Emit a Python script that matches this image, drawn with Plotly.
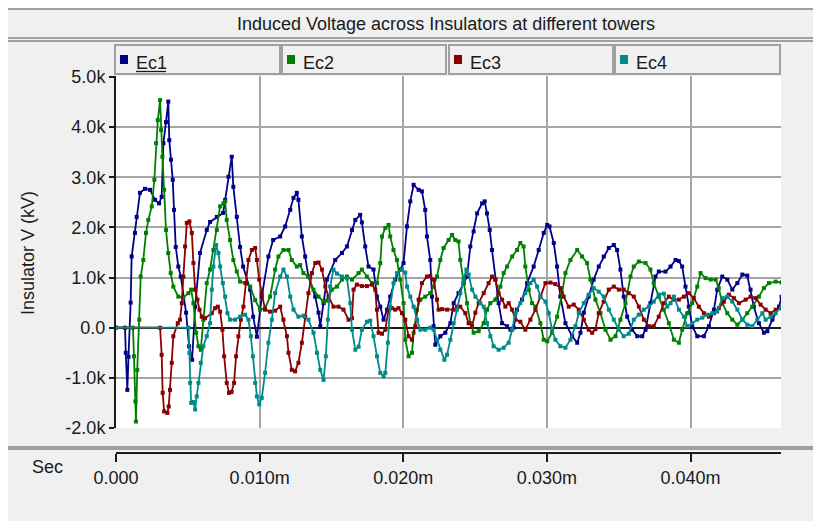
import plotly.graph_objects as go

# ---------------- data (time in µs, i.e. 0.010m s = 10 ; voltage in k units) ----------------
t_ec1 = [0, 0.63, 0.68, 0.79, 0.87, 1.02, 1.09, 1.32, 1.44, 1.67, 2.02, 2.37, 2.72, 3.00, 3.18, 3.30, 3.48, 3.64, 3.71, 3.83,
         3.95, 4.04, 4.16, 4.34, 4.51, 4.88, 5.09, 5.30, 5.51, 5.85, 6.32, 6.55, 7.02, 7.46, 7.60, 7.83, 8.06, 8.17, 8.41, 8.64,
         8.85, 9.34, 9.55, 9.81, 10.15, 10.61, 10.94, 11.43, 11.78, 12.13, 12.36, 12.59, 12.70, 12.94, 13.17, 13.40, 13.87, 14.10, 14.22, 14.45,
         14.68, 15.26, 15.73, 16.08, 16.43, 16.66, 17.00, 17.12, 17.35, 17.58, 17.93, 18.17, 18.40, 18.63, 18.87, 19.09, 19.44, 19.79, 20.02, 20.26,
         20.49, 20.72, 21.07, 21.30, 21.53, 21.65, 21.88, 22.00, 22.11, 22.23, 22.58, 22.93, 23.28, 23.51, 23.85, 24.20, 24.44, 24.67, 24.90, 25.14,
         25.49, 25.67, 25.83, 26.02, 26.18, 26.41, 26.64, 26.88, 27.23, 27.46, 27.69, 27.92, 28.27, 28.62, 29.08, 29.43, 29.78, 30.02, 30.18, 30.48,
         30.71, 30.94, 31.29, 31.76, 32.11, 32.34, 32.57, 32.91, 33.26, 33.61, 33.96, 34.31, 34.66, 34.89, 35.12, 35.35, 35.59, 35.94, 36.29, 36.64,
         36.87, 37.21, 37.56, 37.79, 38.26, 38.61, 38.96, 39.19, 39.42, 39.65, 39.88, 40.12, 40.47, 40.93, 41.28, 41.63, 41.86, 42.21, 42.56, 42.91,
         43.26, 43.61, 43.95, 44.18, 44.41, 44.76, 45.11, 45.35, 45.70, 46.16, 46.34]
v_ec1 = [0, 0, -0.5, -1.24, -0.58, 0.5, 1.42, 1.89, 2.21, 2.69, 2.77, 2.75, 2.55, 2.48, 2.61, 3.68, 4.1, 4.51, 3.74, 3.35,
         2.95, 2.35, 1.61, 1.22, 1.02, 0.3, -0.37, -0.64, 0.42, 1.49, 1.95, 2.11, 2.21, 2.29, 2.55, 3.01, 3.41, 2.81, 2.21, 1.61,
         1.22, 0.76, 0.22, -0.18, 0.62, 1.42, 1.75, 1.82, 2.02, 2.35, 2.59, 2.69, 2.55, 1.82, 1.42, 1.02, 0.62, 0.3, 0.03, 0.49,
         0.96, 1.35, 1.49, 1.62, 1.95, 2.15, 2.25, 2.1, 1.62, 1.22, 1.16, 0.62, 0.42, 0.16, 0.36, 0.62, 0.96, 1.16, 1.29, 2.02,
         2.52, 2.85, 2.75, 2.72, 2.35, 1.82, 1.35, 0.62, 0.03, -0.34, -0.17, -0.1, 0.09, 0.49, 0.69, 0.89, 1.02, 1.62, 1.92, 2.28,
         2.48, 2.52, 2.28, 1.95, 1.55, 0.96, 0.49, 0.09, 0.03, -0.04, 0.0, 0.36, 0.56, 0.89, 1.22, 1.55, 1.89, 2.05, 2.02, 1.69,
         1.22, 0.62, 0.09, -0.17, -0.3, -0.1, 0.3, 0.62, 0.96, 1.22, 1.42, 1.59, 1.65, 1.55, 1.16, 0.62, 0.22, -0.04, -0.17, -0.17,
         -0.04, 0.49, 1.02, 1.12, 1.12, 1.22, 1.35, 1.33, 1.22, 0.82, 0.42, 0.03, -0.17, -0.17, 0.03, 0.36, 0.76, 1.02, 0.96, 0.76,
         0.89, 1.06, 1.04, 0.76, 0.42, 0.09, -0.1, -0.07, 0.16, 0.42, 0.62]

t_ec2 = [0, 1.18, 1.25, 1.35, 1.39, 1.48, 1.62, 1.72, 1.90, 2.09, 2.25, 2.49, 2.67, 2.79, 2.91, 3.07, 3.14, 3.23, 3.35, 3.48,
         3.64, 3.81, 3.99, 4.34, 4.69, 5.04, 5.23, 5.39, 5.58, 5.74, 5.90, 6.08, 6.32, 6.55, 6.78, 7.02, 7.25, 7.48, 7.60, 7.71,
         7.94, 8.17, 8.41, 8.64, 8.99, 9.34, 9.69, 10.03, 10.38, 10.73, 11.08, 11.31, 11.66, 12.01, 12.24, 12.59, 12.82, 13.05, 13.40, 13.75,
         14.10, 14.45, 14.68, 15.03, 15.38, 15.73, 16.08, 16.43, 16.89, 17.12, 17.47, 17.82, 18.17, 18.40, 18.52, 18.75, 18.98, 19.09, 19.32, 19.56,
         19.79, 20.02, 20.14, 20.37, 20.61, 20.72, 20.96, 21.19, 21.53, 21.88, 22.11, 22.35, 22.58, 22.81, 23.16, 23.40, 23.62, 23.85, 23.97, 24.20,
         24.44, 24.67, 24.90, 25.25, 25.60, 25.83, 26.06, 26.41, 26.76, 26.99, 27.23, 27.58, 27.92, 28.15, 28.38, 28.50, 28.74, 28.97, 29.20, 29.55,
         29.78, 30.02, 30.36, 30.71, 31.06, 31.29, 31.64, 32.11, 32.45, 32.80, 33.03, 33.38, 33.73, 34.08, 34.43, 34.78, 35.12, 35.47, 35.82, 36.05,
         36.40, 36.87, 37.21, 37.44, 37.79, 38.14, 38.49, 38.84, 39.19, 39.42, 39.77, 40.12, 40.47, 40.70, 41.05, 41.40, 41.75, 41.97, 42.21, 42.56,
         42.91, 43.26, 43.61, 43.95, 44.30, 44.76, 45.11, 45.46, 45.93, 46.34]
v_ec2 = [0, 0, -0.57, -1.47, -1.87, -0.84, 0.16, 1.02, 1.35, 1.89, 2.15, 2.42, 2.95, 3.68, 4.14, 4.54, 3.94, 3.41, 2.75, 1.95,
         1.49, 1.09, 0.82, 0.62, 0.6, 0.69, 0.76, 0.49, -0.1, -0.37, -0.44, 0.16, 0.89, 1.16, 1.55, 1.95, 2.42, 2.48, 2.52, 2.15,
         1.75, 1.35, 1.12, 0.92, 0.89, 0.82, 0.55, 0.36, 0.39, 0.62, 1.16, 1.42, 1.55, 1.55, 1.35, 1.22, 1.25, 1.09, 1.02, 0.76,
         0.62, 0.52, 0.54, 0.76, 0.82, 0.96, 1.02, 0.96, 1.09, 1.16, 1.02, 0.89, 0.89, 1.29, 1.82, 1.99, 2.05, 1.82, 1.55, 1.35,
         0.96, 0.49, -0.24, -0.57, -0.5, -0.1, 0.36, 0.56, 0.62, 0.69, 0.82, 1.02, 1.35, 1.59, 1.75, 1.85, 1.75, 1.72, 1.35, 0.89,
         0.49, 0.09, -0.1, -0.07, 0.09, 0.36, 0.49, 0.56, 0.82, 1.09, 1.22, 1.42, 1.55, 1.69, 1.62, 1.22, 0.76, 0.49, 0.42, 0.09,
         -0.24, -0.27, -0.1, 0.22, 0.69, 1.09, 1.35, 1.55, 1.42, 1.29, 0.96, 0.56, 0.29, -0.04, -0.24, -0.17, 0.16, 0.49, 1.02, 1.22,
         1.32, 1.29, 1.16, 0.89, 0.62, 0.36, 0.09, -0.24, -0.3, -0.04, 0.29, 0.49, 0.82, 1.09, 0.99, 0.96, 0.96, 0.79, 0.49, 0.29,
         0.16, 0.06, 0.16, 0.29, 0.42, 0.62, 0.79, 0.89, 0.92, 0.9]

t_ec3 = [0, 3.07, 3.18, 3.25, 3.35, 3.58, 3.67, 3.76, 3.88, 3.99, 4.30, 4.46, 4.58, 4.69, 4.81, 4.93, 5.11, 5.28, 5.39, 5.51,
         5.67, 5.81, 5.97, 6.20, 6.67, 6.90, 7.09, 7.25, 7.41, 7.53, 7.71, 7.87, 8.05, 8.22, 8.36, 8.52, 8.69, 8.87, 9.06, 9.22,
         9.46, 9.69, 9.81, 9.97, 10.15, 10.38, 10.73, 11.08, 11.43, 11.66, 11.90, 12.01, 12.24, 12.47, 12.70, 12.94, 13.17, 13.40, 13.64, 13.87,
         14.10, 14.34, 14.57, 14.80, 15.14, 15.49, 15.84, 16.19, 16.43, 16.54, 16.77, 17.12, 17.47, 17.82, 18.05, 18.17, 18.28, 18.52, 18.75, 18.98,
         19.21, 19.44, 19.67, 19.91, 20.14, 20.37, 20.61, 20.84, 21.07, 21.30, 21.65, 21.88, 22.11, 22.35, 22.46, 22.70, 23.05, 23.51, 23.74, 23.97,
         24.32, 24.55, 24.79, 25.02, 25.25, 25.60, 25.94, 26.18, 26.41, 26.64, 26.88, 27.11, 27.34, 27.58, 27.81, 28.15, 28.50, 28.85, 29.20, 29.55,
         29.90, 30.25, 30.59, 30.94, 31.17, 31.52, 31.87, 32.22, 32.57, 32.91, 33.15, 33.38, 33.61, 33.96, 34.31, 34.66, 35.01, 35.35, 35.70, 36.05,
         36.40, 36.75, 37.10, 37.44, 37.79, 38.14, 38.49, 38.84, 39.19, 39.54, 39.88, 40.23, 40.58, 40.93, 41.28, 41.63, 41.97, 42.32, 42.67, 43.02,
         43.37, 43.84, 44.18, 44.53, 44.88, 45.23, 45.58, 45.93, 46.34]
v_ec3 = [0, 0, -0.54, -1.3, -1.67, -1.7, -1.57, -1.24, -0.7, -0.17, 0.09, 0.16, 0.49, 1.02, 1.62, 2.09, 2.12, 1.89, 1.29, 0.76,
         0.56, 0.36, 0.22, 0.19, 0.29, 0.39, 0.42, 0.32, -0.04, -0.57, -1.1, -1.3, -1.28, -1.1, -0.57, -0.17, 0.16, 0.42, 0.89, 1.35,
         1.55, 1.59, 1.35, 0.96, 0.69, 0.36, 0.32, 0.34, 0.42, 0.16, -0.17, -0.5, -0.84, -0.87, -0.7, -0.3, 0.22, 0.69, 1.09, 1.29,
         1.3, 1.16, 0.82, 0.62, 0.42, 0.42, 0.36, 0.16, 0.19, 0.76, 0.86, 0.83, 0.83, 0.86, 0.76, 0.36, -0.1, -0.12, -0.04, 0.36,
         0.39, 0.36, 0.39, 0.29, 0.16, -0.17, -0.24, 0.03, 0.56, 0.89, 1.02, 1.03, 0.96, 0.56, 0.36, 0.37, 0.36, 0.36, 0.42, 0.42,
         0.29, 0.09, 0.03, 0.3, 0.49, 0.69, 0.89, 1.02, 0.96, 0.69, 0.56, 0.42, 0.49, 0.36, 0.16, 0.12, -0.04, 0.16, 0.36, 0.62,
         0.89, 0.9, 0.87, 0.79, 0.62, 0.42, 0.46, 0.36, 0.16, -0.04, -0.1, -0.03, 0.29, 0.52, 0.76, 0.82, 0.76, 0.76, 0.69, 0.62,
         0.42, 0.16, 0.03, 0.03, 0.22, 0.49, 0.62, 0.56, 0.56, 0.62, 0.69, 0.59, 0.42, 0.29, 0.22, 0.29, 0.39, 0.52, 0.66, 0.59,
         0.49, 0.56, 0.62, 0.59, 0.46, 0.36, 0.29, 0.36, 0.39]

t_ec4 = [0, 5.05, 5.11, 5.16, 5.23, 5.39, 5.51, 5.62, 5.74, 5.90, 6.08, 6.32, 6.55, 6.67, 6.78, 6.97, 7.13, 7.25, 7.44, 7.60,
         7.76, 7.94, 8.29, 8.64, 8.99, 9.22, 9.39, 9.53, 9.69, 9.81, 9.97, 10.15, 10.38, 10.61, 10.85, 11.08, 11.43, 11.66, 11.90, 12.13,
         12.36, 12.70, 13.05, 13.40, 13.75, 13.99, 14.22, 14.45, 14.61, 14.75, 14.91, 15.14, 15.38, 15.73, 16.08, 16.31, 16.43, 16.66, 16.89, 17.12,
         17.47, 17.70, 17.93, 18.17, 18.40, 18.63, 18.75, 18.93, 19.09, 19.32, 19.56, 19.91, 20.14, 20.26, 20.49, 20.72, 20.96, 21.19, 21.53, 21.88,
         22.11, 22.35, 22.58, 22.86, 23.05, 23.28, 23.51, 23.74, 23.97, 24.20, 24.39, 24.55, 24.79, 25.02, 25.37, 25.60, 25.83, 26.06, 26.29, 26.64,
         26.99, 27.34, 27.58, 27.81, 28.15, 28.50, 28.85, 29.08, 29.32, 29.55, 29.90, 30.13, 30.36, 30.59, 30.94, 31.29, 31.64, 31.99, 32.22, 32.57,
         32.91, 33.26, 33.61, 33.96, 34.31, 34.66, 35.01, 35.35, 35.70, 36.05, 36.40, 36.75, 37.10, 37.44, 37.79, 38.14, 38.38, 38.61, 38.84, 39.19,
         39.54, 39.77, 40.12, 40.47, 40.82, 41.17, 41.52, 41.86, 42.21, 42.56, 42.91, 43.26, 43.61, 43.95, 44.30, 44.65, 45.00, 45.23, 45.58, 45.93,
         46.34]
v_ec4 = [0, 0, -0.5, -1.1, -1.5, -1.48, -1.63, -1.37, -1.1, -0.7, -0.37, -0.17, 0.09, 0.76, 1.22, 1.65, 1.49, 1.22, 0.89, 0.62,
         0.29, 0.16, 0.16, 0.22, 0.26, 0.16, -0.17, -0.57, -1.1, -1.37, -1.53, -1.4, -0.9, -0.3, 0.16, 0.69, 1.02, 1.16, 1.02, 0.62,
         0.36, 0.22, 0.24, 0.16, -0.1, -0.5, -0.84, -1.04, -0.57, 0.16, 0.82, 1.16, 1.08, 1.02, 0.98, 0.49, -0.04, -0.44, -0.38, -0.04,
         0.12, 0.14, -0.17, -0.57, -0.9, -0.97, -0.9, -0.3, 0.42, 0.89, 1.09, 1.16, 1.1, 0.82, 0.62, 0.42, 0.16, -0.04, -0.04, 0.0,
         -0.04, -0.24, -0.44, -0.64, -0.54, -0.24, 0.09, 0.36, 0.69, 0.96, 1.16, 1.06, 0.76, 0.62, 0.49, 0.42, 0.09, -0.17, -0.37, -0.44,
         -0.4, -0.3, -0.04, 0.29, 0.49, 0.69, 0.89, 0.96, 0.82, 0.62, 0.52, 0.29, -0.04, -0.24, -0.37, -0.4, -0.24, 0.03, 0.29, 0.49,
         0.66, 0.79, 0.72, 0.62, 0.36, 0.16, -0.04, -0.17, -0.12, 0.16, 0.26, 0.36, 0.42, 0.52, 0.66, 0.68, 0.42, 0.49, 0.62, 0.36,
         0.22, 0.03, 0.09, 0.16, 0.2, 0.26, 0.29, 0.32, 0.59, 0.62, 0.52, 0.36, 0.16, 0.06, 0.03, 0.16, 0.29, 0.16, 0.22, 0.29,
         0.42]

series_names = ["Ec1", "Ec2", "Ec3", "Ec4"]
series_colors = ["#00008B", "#008000", "#8B0000", "#008B8B"]

x_tickvals = [0, 10, 20, 30, 40]
x_ticktext = ["0.000", "0.010m", "0.020m", "0.030m", "0.040m"]
y_tickvals = [-2, -1, 0, 1, 2, 3, 4, 5]
y_ticktext = ["-2.0k", "-1.0k", "0.0", "1.0k", "2.0k", "3.0k", "4.0k", "5.0k"]

title_text = "Induced Voltage across Insulators at different towers"
y_title = "Insulator V (kV)"
x_title = "Sec"

# ---------------- layout geometry (page pixels; the page body adds an 8px margin) ----------------
PAGE_W, PAGE_H = 821, 521
BODY = 8
L, R, T, B = 116, 781, 76, 452          # paper area in page pixels
PLOT_BOTTOM = 428                      # bottom of the main plot area
W, H = R - L, B - T

def fx(px):
    return (px - L) / W

def fy(py):
    return (B - py) / H

FONT = "Liberation Sans, Arial, sans-serif"
FS = 18
TXT = "#1a1a1a"
GRID = "#a6a6a6"

fig = go.Figure()
all_t = [t_ec1, t_ec2, t_ec3, t_ec4]
all_v = [v_ec1, v_ec2, v_ec3, v_ec4]
for name, col, tt, vv in zip(series_names, series_colors, all_t, all_v):
    fig.add_trace(go.Scatter(
        x=tt, y=vv, name=name, mode="lines+markers",
        line=dict(color=col, width=1.8),
        marker=dict(symbol="square", size=4, color=col),
        showlegend=False, xaxis="x", yaxis="y"))

# helper (empty) trace for the separate time axis in the bottom panel
fig.add_trace(go.Scatter(x=[], y=[], xaxis="x2", yaxis="y2", showlegend=False))

shapes = []
for (x0, y0, x1, y1) in [(7, 9, 840, 38), (7, 41, 840, 447), (7, 449, 840, 540)]:
    shapes.append(dict(type="rect", xref="paper", yref="paper",
                       x0=fx(x0), x1=fx(x1), y0=fy(y1), y1=fy(y0),
                       line=dict(color="#a0a0a0", width=2), fillcolor="rgba(0,0,0,0)", layer="above"))
legend_boxes = [(115, 280), (282, 446), (449, 613), (615, 780)]
annotations = []
for (bx0, bx1), name, col in zip(legend_boxes, series_names, series_colors):
    shapes.append(dict(type="rect", xref="paper", yref="paper",
                       x0=fx(bx0), x1=fx(bx1), y0=fy(74), y1=fy(45),
                       line=dict(color="#a0a0a0", width=2), fillcolor="#f0f0f0", layer="above"))
    shapes.append(dict(type="rect", xref="paper", yref="paper",
                       x0=fx(bx0 + 5), x1=fx(bx0 + 13), y0=fy(64), y1=fy(55),
                       line=dict(width=0), fillcolor=col, layer="above"))
    annotations.append(dict(text=name, xref="paper", yref="paper", x=fx(bx0 + 19), y=fy(63),
                            xanchor="left", yanchor="middle", showarrow=False,
                            font=dict(family=FONT, size=FS, color=TXT)))
shapes.append(dict(type="line", xref="paper", yref="paper", x0=fx(136), x1=fx(166), y0=fy(71.5), y1=fy(71.5),
                   line=dict(color=TXT, width=1.3), layer="above"))

annotations += [
    dict(text=title_text, xref="paper", yref="paper", x=fx(446), y=fy(24), xanchor="center", yanchor="middle",
         showarrow=False, font=dict(family=FONT, size=FS, color=TXT)),
    dict(text=y_title, xref="paper", yref="paper", x=fx(28), y=fy(253), xanchor="center", yanchor="middle",
         textangle=-90, showarrow=False, font=dict(family=FONT, size=FS, color=TXT)),
    dict(text=x_title, xref="paper", yref="paper", x=fx(47), y=fy(467), xanchor="center", yanchor="middle",
         showarrow=False, font=dict(family=FONT, size=FS, color=TXT)),
]

fig.update_layout(
    width=PAGE_W - BODY, height=PAGE_H - BODY,
    margin=dict(l=L - BODY, r=PAGE_W - R, t=T - BODY, b=PAGE_H - B, pad=0),
    paper_bgcolor="#f0f0f0", plot_bgcolor="white",
    showlegend=False,
    font=dict(family=FONT, size=FS, color=TXT),
    xaxis=dict(range=[0, 46.3], tickvals=x_tickvals, showticklabels=False, ticks="",
               showgrid=True, gridcolor=GRID, gridwidth=2, zeroline=False, showline=False, anchor="y"),
    yaxis=dict(domain=[fy(PLOT_BOTTOM), 1], range=[-2.0, 5.02], tickvals=y_tickvals, ticktext=y_ticktext,
               showgrid=True, gridcolor=GRID, gridwidth=2,
               zeroline=True, zerolinecolor=TXT, zerolinewidth=2,
               showline=True, linecolor=TXT, linewidth=2,
               ticks="outside", ticklen=5, tickwidth=1.5, tickcolor=TXT,
               tickfont=dict(family=FONT, size=FS, color=TXT), anchor="x"),
    xaxis2=dict(range=[0, 46.3], tickvals=x_tickvals, ticktext=x_ticktext, anchor="y2",
                showgrid=False, zeroline=False, showline=True, linecolor=TXT, linewidth=2,
                ticks="outside", ticklen=8, tickwidth=2, tickcolor=TXT,
                tickfont=dict(family=FONT, size=FS, color=TXT)),
    yaxis2=dict(domain=[0, 0.002], visible=False, anchor="x2", range=[0, 1]),
    shapes=shapes, annotations=annotations,
)

fig.write_html("out.html")
